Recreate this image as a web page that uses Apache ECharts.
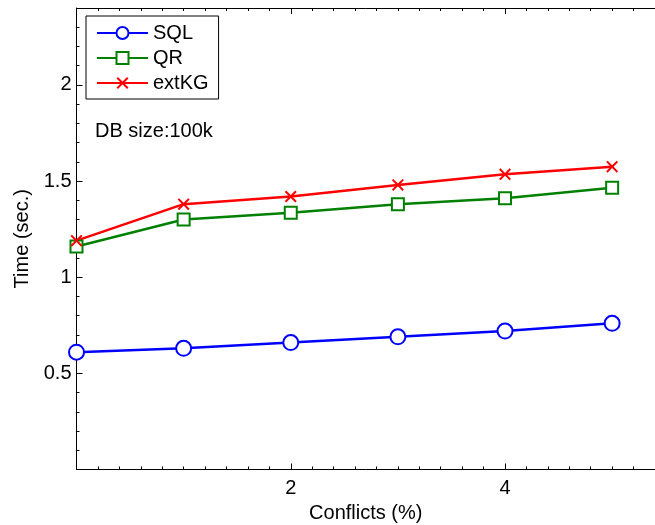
<!DOCTYPE html>
<html>
<head>
<meta charset="utf-8">
<script src="https://cdn.jsdelivr.net/npm/echarts@6/dist/echarts.min.js"></script>
<style>
  html, body { margin: 0; padding: 0; background: #fff; }
  #chart { width: 655px; height: 525px; }
</style>
</head>
<body>
<div id="chart"></div>
<script>
// Query time vs. percentage of conflicts, DB size 100k
const conflicts = [0, 1, 2, 3, 4, 5];
const sqlTime   = [0.61, 0.63, 0.66, 0.69, 0.72, 0.76];
const qrTime    = [1.16, 1.30, 1.335, 1.38, 1.41, 1.465];
const extkgTime = [1.19, 1.38, 1.42, 1.48, 1.535, 1.575];
const xTickLabels = ['2', '4'];
const yTickLabels = ['0.5', '1', '1.5', '2'];

const FONT = 'Liberation Sans, Arial, Helvetica, sans-serif';
const CROSS = 'path://M0,1.2 L1.2,0 L5,3.8 L8.8,0 L10,1.2 L6.2,5 L10,8.8 L8.8,10 L5,6.2 L1.2,10 L0,8.8 L3.8,5 Z';

const pairs = ys => conflicts.map((x, i) => [x, ys[i]]);

const chart = echarts.init(document.getElementById('chart'));

const xAxisBase = {
  type: 'value', min: 0, max: 5.4, interval: 2,
  axisLine: { show: true, onZero: false, lineStyle: { color: '#000', width: 1 } },
  axisTick: { show: true, inside: true, length: 6, lineStyle: { color: '#000' } },
  minorTick: { show: true, splitNumber: 10, length: 3, lineStyle: { color: '#000' } },
  splitLine: { show: false }
};

chart.setOption({
  animation: false,
  backgroundColor: '#fff',
  grid: {
    left: 76.5, top: 8, width: 578.5, height: 461.5,
    containLabel: false, outerBoundsMode: 'none'
  },
  xAxis: [
    Object.assign({}, xAxisBase, {
      position: 'bottom',
      name: 'Conflicts (%)', nameLocation: 'middle', nameGap: 31,
      nameTextStyle: { fontFamily: FONT, fontSize: 20, color: '#000' },
      axisLabel: {
        margin: 9, fontFamily: FONT, fontSize: 20, color: '#000',
        formatter: v => (xTickLabels.includes(String(v)) ? String(v) : '')
      }
    }),
    Object.assign({}, xAxisBase, { position: 'top', axisLabel: { show: false } })
  ],
  yAxis: {
    type: 'value', min: 0, max: 2.4, interval: 0.5,
    name: 'Time (sec.)', nameLocation: 'middle', nameGap: 36,
    nameTextStyle: { fontFamily: FONT, fontSize: 20, color: '#000' },
    axisLine: { show: true, lineStyle: { color: '#000', width: 1 } },
    axisTick: { show: true, inside: true, length: 6, lineStyle: { color: '#000' } },
    minorTick: { show: true, splitNumber: 5, length: 3, lineStyle: { color: '#000' } },
    splitLine: { show: false },
    axisLabel: {
      margin: 5, fontFamily: FONT, fontSize: 20, color: '#000',
      formatter: v => (yTickLabels.includes(String(v)) ? String(v) : '')
    }
  },
  legend: {
    orient: 'vertical', left: 86, top: 16,
    padding: [7, 10, 6, 10],
    itemGap: 5, itemWidth: 51, itemHeight: 15,
    borderColor: '#000', borderWidth: 1, backgroundColor: '#fff',
    textStyle: { fontFamily: FONT, fontSize: 20, color: '#000' },
    data: ['SQL', 'QR', 'extKG']
  },
  graphic: [{
    type: 'text', left: 95, top: 121,
    style: { text: 'DB size:100k', fontFamily: FONT, fontSize: 20, fill: '#000' }
  }],
  series: [
    {
      name: 'SQL', type: 'line', data: pairs(sqlTime),
      symbol: 'emptyCircle', symbolSize: 15,
      lineStyle: { color: '#0000ff', width: 2.5 },
      itemStyle: { color: '#0000ff', borderColor: '#0000ff', borderWidth: 2.5 }
    },
    {
      name: 'QR', type: 'line', data: pairs(qrTime),
      symbol: 'emptyRect', symbolSize: 12,
      lineStyle: { color: '#008000', width: 2.5 },
      itemStyle: { color: '#008000', borderColor: '#008000', borderWidth: 2.5 }
    },
    {
      name: 'extKG', type: 'line', data: pairs(extkgTime),
      symbol: CROSS, symbolSize: 12,
      lineStyle: { color: '#ff0000', width: 2.5 },
      itemStyle: { color: '#ff0000', borderColor: '#ff0000', borderWidth: 0 }
    }
  ]
});
</script>
</body>
</html>
